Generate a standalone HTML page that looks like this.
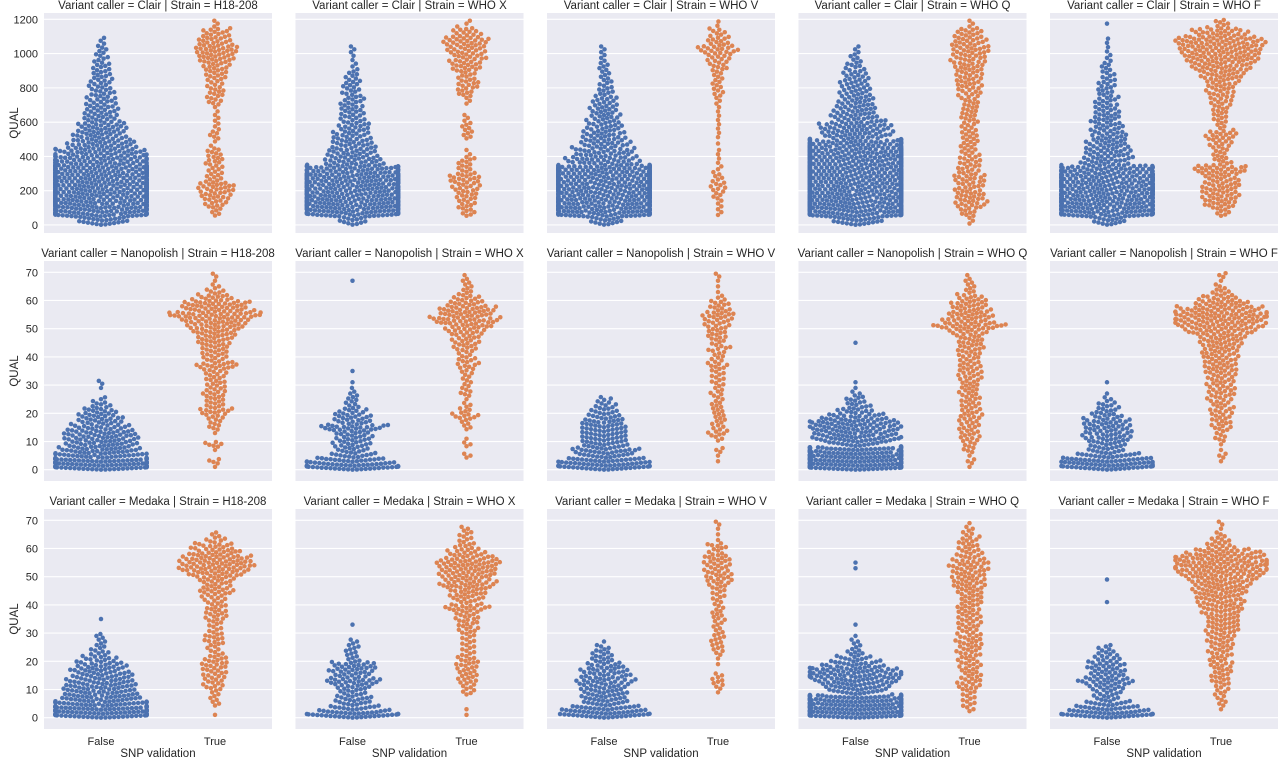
<!DOCTYPE html>
<html><head><meta charset="utf-8">
<style>
html,body{margin:0;padding:0;background:#fff;}
svg{display:block;font-family:"Liberation Sans","DejaVu Sans",sans-serif;}
</style></head>
<body>
<svg id="chart" width="1280" height="757" viewBox="0 0 1280 757" xmlns="http://www.w3.org/2000/svg"></svg>
<script>
const callers = ["Clair", "Nanopolish", "Medaka"];
const strains = ["H18-208", "WHO X", "WHO V", "WHO Q", "WHO F"];
const categories = ["False", "True"];
const clairTicks = [0, 200, 400, 600, 800, 1000, 1200];
const smallTicks = [0, 10, 20, 30, 40, 50, 60, 70];
// Clair bins: width 50, starting at 0
const clairFalse = [
 [24,70,85,85,85,85,85,55,42,30,24,22,16,15,13,11,10,9,8,6,5,3,0,0],
 [13,62,75,75,75,75,55,26,22,19,16,14,11,11,10,8,8,6,3,2,3,0,0,0],
 [16,80,85,85,85,85,85,32,26,22,19,16,14,13,11,8,6,5,5,3,3,0,0,0],
 [24,85,85,85,85,85,85,85,85,65,32,32,22,19,16,14,13,11,8,5,3,0,0,0],
 [16,70,75,75,75,75,55,22,21,19,16,14,13,11,10,8,8,6,5,3,2,2,0,1]
];
const clairTrue = [
 [0,5,10,14,17,8,7,8,7,2,5,3,3,2,7,8,7,10,12,17,20,15,12,3],
 [0,7,8,10,12,14,7,7,2,0,5,5,3,0,3,8,10,8,14,15,17,20,12,3],
 [0,3,3,5,7,5,3,2,2,1,2,2,2,2,3,5,5,5,8,10,17,10,7,2],
 [3,8,14,14,12,14,10,10,8,8,8,7,8,8,8,10,12,12,14,15,17,15,12,3],
 [0,7,15,17,17,15,24,8,7,10,14,5,7,8,10,12,14,20,27,34,37,40,24,7]
];
// Nanopolish / Medaka bins: width 2, starting at 0
const nanoFalse = [
 [49,49,31,25,22,22,22,17,14,13,10,6,3,0,1,2,0,0,0,0,0,0,0,0,0,0,0,0,0,0,0,0,0,0,0],
 [39,25,14,10,11,11,11,20,11,11,8,4,4,3,1,1,0,1,0,0,0,0,0,0,0,0,0,0,0,0,0,0,0,1,0],
 [35,28,17,20,14,14,14,14,13,10,8,6,4,0,0,0,0,0,0,0,0,0,0,0,0,0,0,0,0,0,0,0,0,0,0],
 [56,56,56,49,17,28,25,28,28,17,11,7,6,3,1,1,0,0,0,0,0,0,1,0,0,0,0,0,0,0,0,0,0,0,0],
 [34,31,20,11,11,14,14,14,14,10,7,6,3,1,0,1,0,0,0,0,0,0,0,0,0,0,0,0,0,0,0,0,0,0,0]
];
const nanoTrue = [
 [1,4,0,1,6,0,1,4,4,6,10,6,6,7,6,6,6,7,13,7,8,8,10,11,14,17,20,28,20,20,11,6,3,1,2],
 [0,0,3,0,3,1,0,3,3,8,4,3,1,4,3,3,3,4,6,6,4,7,8,8,11,14,20,17,17,11,8,4,3,3,1],
 [0,1,1,3,0,3,6,4,4,4,4,4,3,4,3,4,4,4,6,4,4,6,4,6,6,7,8,10,6,6,3,1,1,1,2],
 [1,3,1,4,4,6,6,6,6,7,6,6,6,6,6,6,7,7,7,6,7,8,8,8,11,22,14,14,11,11,8,4,3,3,1],
 [0,1,3,1,1,4,3,6,6,6,7,6,7,8,8,8,8,10,10,10,11,11,13,14,20,25,28,31,25,17,11,6,3,1,3]
];
const medakaFalse = [
 [49,49,35,25,22,22,20,18,17,14,10,6,4,3,3,0,0,1,0,0,0,0,0,0,0,0,0,0,0,0,0,0,0,0,0],
 [34,17,11,11,8,11,17,11,14,13,4,4,4,3,0,0,1,0,0,0,0,0,0,0,0,0,0,0,0,0,0,0,0,0,0],
 [31,25,14,14,14,14,17,14,14,10,7,6,4,1,0,0,0,0,0,0,0,0,0,0,0,0,0,0,0,0,0,0,0,0,0],
 [56,56,56,50,17,20,25,31,28,17,11,6,3,3,1,0,1,0,0,0,0,0,0,0,0,0,1,1,0,0,0,0,0,0,0],
 [34,22,14,8,8,11,17,11,11,11,8,6,4,0,0,0,0,0,0,0,1,0,0,0,1,0,0,0,0,0,0,0,0,0,0]
];
const medakaTrue = [
 [1,0,3,3,3,6,6,7,7,8,7,4,4,6,6,4,4,6,7,6,6,7,11,8,11,17,22,22,20,14,11,6,3,0,0],
 [1,1,0,0,4,4,6,6,6,7,6,4,4,4,4,6,6,7,7,14,7,11,11,17,14,17,17,20,14,10,6,4,4,3,0],
 [0,0,0,0,1,3,4,3,0,1,1,3,4,4,4,3,3,4,4,3,3,4,4,6,8,8,7,8,8,4,6,1,1,1,2],
 [0,3,4,4,4,7,7,6,6,7,6,7,7,8,7,6,7,7,7,7,7,7,8,10,10,10,11,11,8,7,6,6,4,3,1],
 [0,1,3,3,4,4,6,6,6,7,6,7,7,8,8,10,10,10,11,13,14,14,17,17,20,25,31,31,28,20,8,6,3,1,2]
];
const clairBinWidth = 50, smallBinWidth = 2;

const NS = "http://www.w3.org/2000/svg";
const svg = document.getElementById("chart");
function mk(tag, attrs, parent) {
  const e = document.createElementNS(NS, tag);
  for (const k in attrs) e.setAttribute(k, attrs[k]);
  (parent || svg).appendChild(e);
  return e;
}
const colLeft = [44, 295.5, 547, 798.5, 1050];
const panelW = 228, panelH = 220;
const rowTop = [13, 261, 509];
const rowDomains = [[-47, 1237], [-4, 74], [-4, 74]];
const colors = ["#4c72b0", "#dd8452"];
const R = 2.25, D = 4.4;

function yScale(row, v) {
  const d = rowDomains[row];
  return rowTop[row] + panelH - (v - d[0]) / (d[1] - d[0]) * panelH;
}
function xScale(col, c) {
  return colLeft[col] + (c + 0.5) / 2 * panelW;
}

function swarm(ys, maxW) {
  const placed = [];
  const out = [];
  const sorted = ys.slice().sort((a, b) => b - a);
  let start = 0;
  for (const py of sorted) {
    while (start < placed.length && placed[start].y - py > D) start++;
    const nb = [];
    for (let i = start; i < placed.length; i++) {
      const q = placed[i];
      if (Math.abs(q.y - py) < D) nb.push(q);
    }
    const cands = [0];
    for (const q of nb) {
      const dy = q.y - py;
      const dx = Math.sqrt(Math.max(0, D * D - dy * dy)) + 0.01;
      cands.push(q.x + dx, q.x - dx);
    }
    cands.sort((a, b) => Math.abs(a) - Math.abs(b));
    let x = null;
    for (const c of cands) {
      if (Math.abs(c) > maxW) break;
      let ok = true;
      for (const q of nb) {
        const dx = q.x - c, dy = q.y - py;
        if (dx * dx + dy * dy < D * D - 0.05) { ok = false; break; }
      }
      if (ok) { x = c; break; }
    }
    if (x === null) {
      x = (out.length % 2 ? 1 : -1) * maxW;
      out.push({ x, y: py });
    } else {
      const p = { x, y: py };
      placed.push(p);
      out.push(p);
    }
  }
  return out;
}

const falseSets = [clairFalse, nanoFalse, medakaFalse];
const trueSets = [clairTrue, nanoTrue, medakaTrue];
const binWidths = [clairBinWidth, smallBinWidth, smallBinWidth];

for (let r = 0; r < 3; r++) {
  for (let c = 0; c < 5; c++) {
    const g = mk("g", {});
    
    
    const bg = mk("rect", { x: colLeft[c], y: rowTop[r], width: panelW, height: panelH, fill: "#eaeaf2" }, g);
    
    
    const ticks = r === 0 ? clairTicks : smallTicks;
    for (const t of ticks) {
      const y = yScale(r, t);
      const gl = mk("line", { x1: colLeft[c], x2: colLeft[c] + panelW, y1: y, y2: y, stroke: "#fff", "stroke-width": 1.1 }, g);
      
      
      if (c === 0) {
        const tl = mk("text", { x: colLeft[0] - 6, y: y + 4, "text-anchor": "end", "font-size": 11, fill: "#262626" });
        tl.textContent = t;
        
        
      }
    }
    const title = mk("text", { x: colLeft[c] + panelW / 2, y: rowTop[r] - 4, "text-anchor": "middle", "font-size": 11.5, fill: "#262626" });
    title.textContent = "Variant caller = " + callers[r] + " | Strain = " + strains[c];
    
    

    const sets = [falseSets[r][c], trueSets[r][c]];
    for (let k = 0; k < 2; k++) {
      const counts = sets[k];
      const bw = binWidths[r];
      const ys = [];
      counts.forEach((n, i) => {
        for (let j = 0; j < n; j++) ys.push(yScale(r, i * bw + (j + 0.5) / n * bw));
      });
      const pts = swarm(ys, 0.4 * panelW / 2);
      const cx0 = xScale(c, k);
      const sg = mk("g", { fill: colors[k] }, g);
      
      
      for (const p of pts) {
        const dot = mk("circle", { cx: (cx0 + p.x).toFixed(2), cy: p.y.toFixed(2), r: R }, sg);
        
        
      }
    }
    if (r === 2) {
      for (let k = 0; k < 2; k++) {
        const xl = mk("text", { x: xScale(c, k), y: 745, "text-anchor": "middle", "font-size": 11, fill: "#262626" });
        xl.textContent = categories[k];
        
        
      }
      const xt = mk("text", { x: colLeft[c] + panelW / 2, y: 757, "text-anchor": "middle", "font-size": 11.5, fill: "#262626" });
      xt.textContent = "SNP validation";
      
      
    }
  }
  const yl = mk("text", { x: 0, y: 0, transform: "translate(18," + (rowTop[r] + panelH / 2) + ") rotate(-90)", "text-anchor": "middle", "font-size": 11.5, fill: "#262626" });
  yl.textContent = "QUAL";
  
  
}
</script>
</body></html>
